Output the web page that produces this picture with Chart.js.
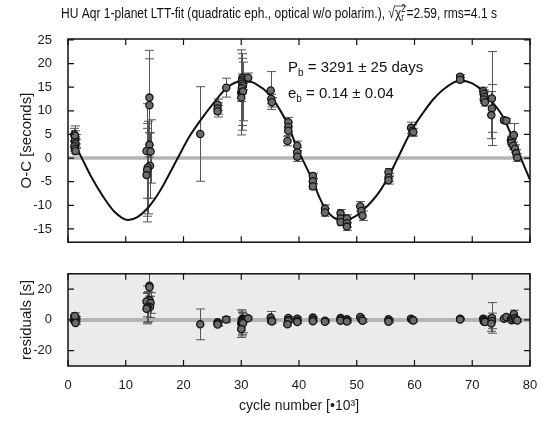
<!DOCTYPE html>
<html>
<head>
<meta charset="utf-8">
<script src="https://cdn.jsdelivr.net/npm/chart.js@4"></script>
<style>
  body { margin: 0; background: #fff; }
  #wrap { position: relative; width: 544px; height: 423px; }
  canvas { position: absolute; left: 0; }
  #top { top: 0; }
  #res { top: 258px; }
</style>
</head>
<body>
<div id="wrap">
  <canvas id="top" width="544" height="258"></canvas>
  <canvas id="res" width="544" height="165"></canvas>
</div>
<script>
// tick positions
const xTicks = [0, 10, 20, 30, 40, 50, 60, 70, 80];
const ocTicks = [-15, -10, -5, 0, 5, 10, 15, 20, 25];
const resTicks = [-20, 0, 20];

// fitted LTT curve (cycle in 1e3)
const fitCycle = [1.0, 2.4, 4, 6, 8, 10.4, 12, 14, 16, 18, 19.0, 21, 23, 25, 27.4, 29, 30.6, 32.5, 35, 36.5, 38.15, 39.7, 40.5, 42.4, 43.5, 44.5, 46, 47.7, 49.5, 50.9, 52.5, 54, 55.5, 57.1, 59.5, 61.5, 63.3, 65.5, 67.9, 70, 71.9, 73.5, 75.4, 77.7, 80];
const fitOC = [3.4, 0, -3.9, -8.0, -11.3, -13.1, -12.5, -10.3, -6.8, -2.3, 0, 4.5, 8.1, 11.3, 14.8, 16.0, 16.4, 15.7, 13.3, 10.6, 6.9, 2.0, 0, -4.9, -8.2, -10.6, -12.6, -13.2, -12.5, -11.2, -9.3, -7.0, -3.9, 0, 5.9, 9.6, 12.5, 15.0, 16.4, 15.8, 14.1, 11.8, 8.6, 2.0, -4.6];

// eclipse timings
const cycles = [1.1, 1.2, 1.3, 1.2, 1.3, 1.1, 1.2, 1.3, 1.2,
  14.1, 14.1, 14.1, 13.6, 14.3, 14.2, 13.8, 13.7, 13.6,
  22.9, 25.9, 25.9, 25.9, 27.4,
  30.2, 30.3, 30.1, 30.2, 30.3, 30.1, 30.0, 30.1, 30.2, 30.3, 30.0, 31.2,
  35.1, 35.2, 35.3, 38.15, 38.15, 38.15, 38.0, 39.7, 39.7, 39.7,
  42.4, 42.4, 42.4, 44.5, 44.5, 47.2, 47.2, 47.2, 48.3, 48.3, 48.3,
  50.6, 50.8, 51.0, 55.5, 55.5, 55.5, 59.4, 59.6, 59.8, 67.9, 67.9,
  71.9, 72.0, 72.1, 72.0, 72.2, 73.4, 73.4, 73.3, 75.5, 75.9,
  76.7, 76.9, 77.2, 76.8, 77.1, 77.4, 77.6, 77.8];
const ocValues = [5.0, 4.5, 4.0, 3.5, 3.0, 2.5, 2.0, 1.5, 4.8,
  12.8, 11.2, 2.8, 1.5, 1.4, -1.6, -2.0, -2.5, -3.6,
  5.1, 11.3, 10.5, 9.9, 14.9,
  17.0, 16.6, 16.2, 15.8, 15.3, 14.8, 13.9, 14.0, 14.0, 14.1, 12.8, 17.0,
  14.3, 12.5, 11.8, 7.6, 6.6, 5.8, 3.6, 2.6, 1.2, 0.3,
  -3.8, -4.9, -6.0, -10.7, -11.5, -11.7, -12.8, -13.5, -12.8, -13.8, -14.5,
  -10.2, -11.2, -12.2, -3.0, -4.1, -4.7, 6.4, 5.8, 5.5, 17.2, 16.6,
  14.2, 13.6, 13.0, 12.4, 11.8, 12.6, 10.5, 9.1, 8.0, 7.9,
  3.8, 4.1, 4.9, 3.2, 2.6, 2.0, 1.0, 0.1];
const ocErrors = [1.3, 1.3, 1.0, 1.0, 1.0, 1.0, 1.0, 0.8, 2.0,
  10.0, 9.8, 2.6, 10.0, 6.7, 6.9, 9.8, 9.8, 9.9,
  10.0, 1.2, 1.2, 1.2, 2.0,
  0.8, 0.8, 0.8, 0.8, 0.8, 0.8, 9.0, 8.1, 7.1, 6.2, 0.8, 1.0,
  4.0, 1.0, 1.0, 1.0, 1.0, 1.0, 1.0, 1.0, 1.0, 1.0,
  0.6, 0.6, 0.6, 0.8, 0.8, 0.8, 0.8, 0.8, 0.8, 0.8, 0.8,
  1.0, 1.0, 1.0, 0.8, 0.8, 0.8, 1.2, 1.2, 0.8, 0.5, 0.5,
  0.8, 0.8, 0.8, 0.8, 0.8, 9.95, 5.05, 5.0, 0.5, 0.5,
  0.8, 0.8, 2.4, 0.8, 0.8, 0.8, 0.8, 0.8];
const residuals = [2.2, 1.6, 1.1, 0.5, 0.0, -0.6, -1.1, -2.0, 2.6,
  22.3, 21.2, 12.9, 12.0, 11.0, 8.4, 8.6, 8.0, 7.3,
  -2.9, -1.6, -2.4, -3.0, 0.2,
  0.8, 0.4, -0.1, -0.5, -1.0, -1.5, -2.4, -2.3, -2.3, -2.2, -6.0, 1.0,
  1.5, -0.4, -1.0, 1.2, 0.0, -0.8, -2.9, 0.8, -0.6, -1.4,
  1.5, 0.2, -0.9, -0.5, -1.2, 1.2, 0.2, -0.5, 0.4, -0.4, -1.1,
  1.9, 0.5, -0.5, 0.4, -0.6, -1.2, 0.8, 0.0, -0.4, 0.8, 0.2,
  0.8, 0.2, -0.4, -1.0, -1.4, 1.3, -0.65, -2.4, 0.8, 1.9,
  0.5, 1.8, 3.9, -0.2, 0.6, 1.2, 0.3, -0.4];

const FONT = '"Liberation Sans", Arial, sans-serif';

// zero line, gray panel, error bars
const underlay = {
  id: 'underlay',
  beforeDatasetsDraw(chart, args, opts) {
    const ctx = chart.ctx, a = chart.chartArea;
    const xs = chart.scales.x, ys = chart.scales.y;
    ctx.save();
    ctx.beginPath();
    ctx.rect(a.left, a.top, a.right - a.left, a.bottom - a.top);
    ctx.clip();
    if (opts.panel) {
      ctx.fillStyle = '#ebebeb';
      ctx.fillRect(a.left, a.top, a.right - a.left, a.bottom - a.top);
    }
    ctx.strokeStyle = '#b4b4b4';
    ctx.lineWidth = opts.panel ? 4 : 3.5;
    const y0 = ys.getPixelForValue(0);
    ctx.beginPath(); ctx.moveTo(a.left, y0); ctx.lineTo(a.right, y0); ctx.stroke();

    ctx.strokeStyle = '#555';
    ctx.lineWidth = 1;
    const vals = opts.values;
    for (let i = 0; i < cycles.length; i++) {
      const px = Math.round(xs.getPixelForValue(cycles[i])) + 0.5;
      const yt = ys.getPixelForValue(vals[i] + ocErrors[i]);
      const yb = ys.getPixelForValue(vals[i] - ocErrors[i]);
      ctx.beginPath();
      ctx.moveTo(px, yt); ctx.lineTo(px, yb);
      ctx.moveTo(px - 4.5, yt); ctx.lineTo(px + 4.5, yt);
      ctx.moveTo(px - 4.5, yb); ctx.lineTo(px + 4.5, yb);
      ctx.stroke();
    }
    ctx.restore();
  }
};

// frame with inward ticks on all sides
const frame = {
  id: 'frame',
  afterDraw(chart, args, opts) {
    const ctx = chart.ctx, a = chart.chartArea;
    const xs = chart.scales.x, ys = chart.scales.y;
    ctx.save();
    ctx.strokeStyle = '#111';
    ctx.lineWidth = 1.5;
    ctx.strokeRect(a.left, a.top, a.right - a.left, a.bottom - a.top);
    ctx.lineWidth = 1.2;
    ctx.beginPath();
    xTicks.forEach(v => {
      const p = xs.getPixelForValue(v);
      ctx.moveTo(p, a.top); ctx.lineTo(p, a.top + 6);
      ctx.moveTo(p, a.bottom); ctx.lineTo(p, a.bottom - 6);
    });
    opts.yTicks.forEach(v => {
      const p = ys.getPixelForValue(v);
      ctx.moveTo(a.left, p); ctx.lineTo(a.left + 6, p);
      ctx.moveTo(a.right, p); ctx.lineTo(a.right - 6, p);
    });
    ctx.stroke();
    ctx.restore();
  }
};

// title and fit parameters
const labels = {
  id: 'labels',
  afterDraw(chart) {
    const ctx = chart.ctx;
    ctx.save();
    ctx.fillStyle = '#111';
    ctx.strokeStyle = '#111';
    const main = '15px ' + FONT, small = '10px ' + FONT;
    const t1 = 'HU Aqr 1-planet LTT-fit (quadratic eph., optical w/o polarim.), \u221A\u03C7';
    const t2 = '=2.59, rms=4.1 s';
    ctx.font = main;
    const w1 = ctx.measureText(t1).width, w2 = ctx.measureText(t2).width;
    const wchi = ctx.measureText('\u03C7').width;
    ctx.font = small;
    const ws = ctx.measureText('2').width + 1;
    const sx = 436 / (w1 + ws + w2);
    ctx.save();
    ctx.translate(61, 18);
    ctx.scale(sx, 1);
    ctx.font = main; ctx.fillText(t1, 0, 0);
    ctx.font = small; ctx.fillText('2', w1, -6); ctx.fillText('r', w1, 3);
    ctx.font = main; ctx.fillText(t2, w1 + ws, 0);
    ctx.lineWidth = 0.8;
    ctx.beginPath(); ctx.moveTo(w1 - wchi - 1, -12); ctx.lineTo(w1 + ws, -12); ctx.stroke();
    ctx.restore();

    const big = '15px ' + FONT, sub = '10px ' + FONT;
    const rows = [['P', ' = 3291 \u00B1 25 days', 72], ['e', ' = 0.14 \u00B1 0.04', 98]];
    rows.forEach(r => {
      ctx.font = big;
      const w = ctx.measureText(r[0]).width;
      ctx.fillText(r[0], 288, r[2]);
      ctx.font = sub;
      const wb = ctx.measureText('b').width;
      ctx.fillText('b', 288 + w, r[2] + 4);
      ctx.font = big;
      ctx.fillText(r[1], 288 + w + wb, r[2]);
    });
    ctx.restore();
  }
};

const pointStyle = {
  type: 'scatter',
  pointRadius: 3.6,
  pointBackgroundColor: '#6c6c6c',
  pointBorderColor: '#151515',
  pointBorderWidth: 1.3,
  order: 0
};

function yAxis(min, max, ticks, title) {
  return {
    min: min, max: max,
    grid: { display: false },
    border: { display: false },
    afterBuildTicks: s => { s.ticks = ticks.map(v => ({ value: v })); },
    afterFit: s => { s.width = 68; },
    ticks: { color: '#1a1a1a', padding: 8, font: { family: FONT, size: 13 } },
    title: { display: true, text: title, color: '#1a1a1a', padding: { top: 18, bottom: 0 }, font: { family: FONT, size: 15 } }
  };
}

new Chart(document.getElementById('top'), {
  data: {
    datasets: [
      Object.assign({ data: cycles.map((c, i) => ({ x: c, y: ocValues[i] })) }, pointStyle),
      { type: 'line', data: fitCycle.map((c, i) => ({ x: c, y: fitOC[i] })),
        borderColor: '#111', borderWidth: 2, pointRadius: 0, cubicInterpolationMode: 'monotone', order: 1 }
    ]
  },
  options: {
    responsive: false, animation: false, devicePixelRatio: 1,
    layout: { padding: { top: 39, left: 0, right: 14, bottom: 1 } },
    plugins: {
      legend: { display: false }, tooltip: { enabled: false },
      underlay: { values: ocValues, panel: false },
      frame: { yTicks: ocTicks }
    },
    scales: {
      x: { type: 'linear', min: 0, max: 80, display: false },
      y: yAxis(-17.8, 25.2, ocTicks, 'O-C [seconds]')
    }
  },
  plugins: [underlay, frame, labels]
});

new Chart(document.getElementById('res'), {
  data: {
    datasets: [
      Object.assign({ data: cycles.map((c, i) => ({ x: c, y: residuals[i] })) }, pointStyle)
    ]
  },
  options: {
    responsive: false, animation: false, devicePixelRatio: 1,
    layout: { padding: { top: 5, left: 0, right: 14, bottom: 0 } },
    plugins: {
      legend: { display: false }, tooltip: { enabled: false },
      underlay: { values: residuals, panel: true },
      frame: { yTicks: resTicks }
    },
    scales: {
      x: {
        type: 'linear', min: 0, max: 80,
        grid: { display: false },
        border: { display: false },
        afterBuildTicks: s => { s.ticks = xTicks.map(v => ({ value: v })); },
        afterFit: s => { s.height = 57; },
        ticks: { color: '#1a1a1a', padding: 4, maxRotation: 0, font: { family: FONT, size: 13 } },
        title: { display: true, text: 'cycle number [\u202210\u00B3]', color: '#1a1a1a', padding: { top: 0, bottom: 8 }, font: { family: FONT, size: 14 } }
      },
      y: yAxis(-30, 30, resTicks, 'residuals [s]')
    }
  },
  plugins: [underlay, frame]
});
</script>
</body>
</html>
